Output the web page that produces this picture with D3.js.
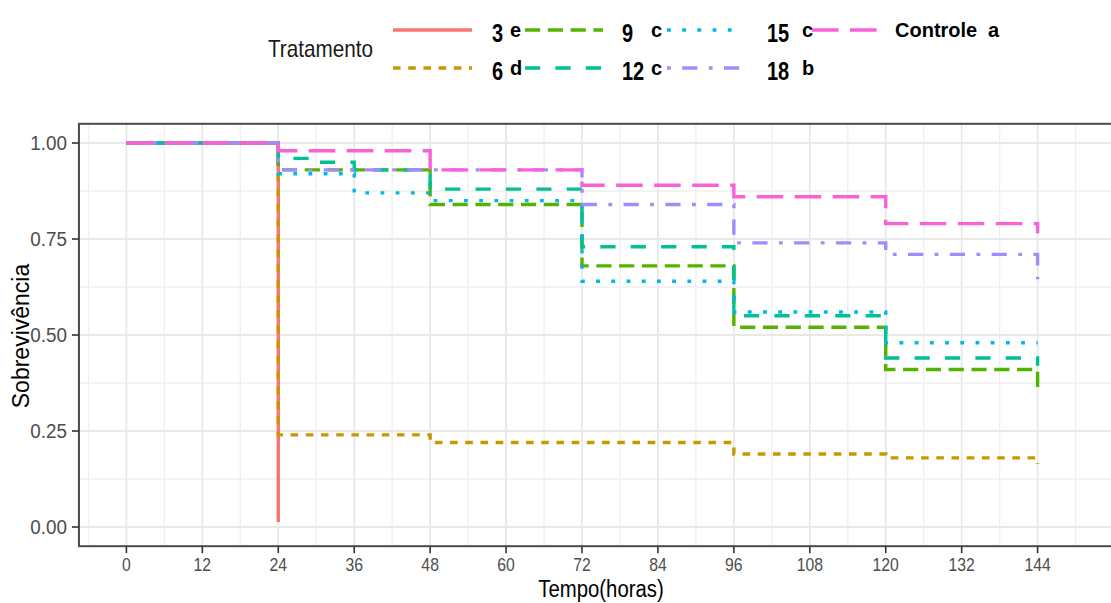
<!DOCTYPE html>
<html>
<head>
<meta charset="utf-8">
<script src="https://cdn.jsdelivr.net/npm/d3@7"></script>
<style>
  html, body { margin: 0; padding: 0; background: #ffffff; overflow: hidden; }
  svg { display: block; }
</style>
</head>
<body>
<svg id="chart" width="1111" height="603"></svg>
<script>
// ---------------- DATA ----------------
const treatments = ["3", "6", "9", "12", "15", "18", "Controle"];
const groupLetters = ["e", "d", "c", "c", "c", "b", "a"];
const seriesColors = ["#F8766D", "#C49A00", "#53B400", "#00C094", "#00B6EB", "#A58AFF", "#FB61D7"];
const lineTypes = ["solid", "22", "42", "44", "13", "1343", "73"];

const times_3 = [0, 24];
const surv_3  = [1.00, 0.013];
const times_6 = [0, 24, 48, 96, 120, 144];
const surv_6  = [1.00, 0.24, 0.22, 0.19, 0.18, 0.165];
const times_9 = [0, 24, 48, 72, 96, 120, 144];
const surv_9  = [1.00, 0.93, 0.84, 0.68, 0.52, 0.41, 0.355];
const times_12 = [0, 24, 30, 36, 48, 72, 96, 120, 144];
const surv_12  = [1.00, 0.96, 0.95, 0.93, 0.88, 0.73, 0.55, 0.44, 0.42];
const times_15 = [0, 24, 36, 48, 72, 96, 120, 144];
const surv_15  = [1.00, 0.92, 0.87, 0.85, 0.64, 0.56, 0.48, 0.48];
const times_18 = [0, 24, 72, 96, 120, 144];
const surv_18  = [1.00, 0.93, 0.84, 0.74, 0.71, 0.645];
const times_ctrl = [0, 24, 48, 72, 96, 120, 144];
const surv_ctrl  = [1.00, 0.98, 0.93, 0.89, 0.86, 0.79, 0.765];

const seriesTimes = [times_3, times_6, times_9, times_12, times_15, times_18, times_ctrl];
const seriesSurv  = [surv_3, surv_6, surv_9, surv_12, surv_15, surv_18, surv_ctrl];

const xTickValues = [0, 12, 24, 36, 48, 60, 72, 84, 96, 108, 120, 132, 144];
const yTickValues = [0.00, 0.25, 0.50, 0.75, 1.00];
const xTitle = "Tempo(horas)";
const yTitle = "Sobrevivência";
const legendTitle = "Tratamento";

// ---------------- LAYOUT ----------------
const svg = d3.select("#chart");
const x = d3.scaleLinear().domain([0, 144]).range([126.4, 1037.6]);
const y = d3.scaleLinear().domain([0, 1]).range([527, 143]);
const xMin = -7.5, xMax = 157.5, yMin = -0.05, yMax = 1.05;
const px0 = x(xMin), px1 = x(xMax), py0 = y(yMax), py1 = y(yMin);
const SX = 0.83; // horizontal text compression seen in the picture
const unit = 3.8;

function dash(lt) {
  if (lt === "solid") return null;
  return lt.split("").map(c => +c * unit).join(",");
}
function ctext(parent, tx, ty, str, size, anchor, fill, weight, sx) {
  const g = parent.append("g").attr("transform", `translate(${tx},${ty}) scale(${sx},1)`);
  return g.append("text").attr("x", 0).attr("y", 0)
    .attr("text-anchor", anchor).attr("fill", fill)
    .attr("font-family", "Liberation Sans, Arial, sans-serif")
    .attr("font-size", size).attr("font-weight", weight).text(str);
}

// panel background & grid
svg.append("rect").attr("x", px0).attr("y", py0).attr("width", px1 - px0).attr("height", py1 - py0).attr("fill", "#fff");
const grid = svg.append("g");
const xMinor = d3.range(-6, 157, 12);
const yMinor = [0.125, 0.375, 0.625, 0.875];
grid.selectAll(".vxm").data(xMinor).enter().append("line")
  .attr("x1", d => x(d)).attr("x2", d => x(d)).attr("y1", py0).attr("y2", py1)
  .attr("stroke", "#EFEFEF").attr("stroke-width", 1.3);
grid.selectAll(".hym").data(yMinor).enter().append("line")
  .attr("x1", px0).attr("x2", px1).attr("y1", d => y(d)).attr("y2", d => y(d))
  .attr("stroke", "#EFEFEF").attr("stroke-width", 1.3);
grid.selectAll(".vx").data(xTickValues).enter().append("line")
  .attr("x1", d => x(d)).attr("x2", d => x(d)).attr("y1", py0).attr("y2", py1)
  .attr("stroke", "#E8E8E8").attr("stroke-width", 1.8);
grid.selectAll(".hy").data(yTickValues).enter().append("line")
  .attr("x1", px0).attr("x2", px1).attr("y1", d => y(d)).attr("y2", d => y(d))
  .attr("stroke", "#E8E8E8").attr("stroke-width", 1.8);

// survival step curves
const line = d3.line().x(d => x(d[0])).y(d => y(d[1])).curve(d3.curveStepAfter);
treatments.forEach((t, i) => {
  const pts = seriesTimes[i].map((tt, j) => [tt, seriesSurv[i][j]]);
  svg.append("path").attr("d", line(pts))
    .attr("fill", "none").attr("stroke", seriesColors[i])
    .attr("stroke-width", 3.4)
    .attr("stroke-dasharray", dash(lineTypes[i]));
});

// panel border
svg.append("rect").attr("x", px0).attr("y", py0).attr("width", px1 - px0).attr("height", py1 - py0)
  .attr("fill", "none").attr("stroke", "#4a4a4a").attr("stroke-width", 2);

// axes ticks
const axG = svg.append("g");
axG.selectAll(".xt").data(xTickValues).enter().append("line")
  .attr("x1", d => x(d)).attr("x2", d => x(d)).attr("y1", py1).attr("y2", py1 + 7)
  .attr("stroke", "#333").attr("stroke-width", 1.6);
axG.selectAll(".yt").data(yTickValues).enter().append("line")
  .attr("x1", px0 - 7).attr("x2", px0).attr("y1", d => y(d)).attr("y2", d => y(d))
  .attr("stroke", "#333").attr("stroke-width", 1.6);
xTickValues.forEach(v => ctext(axG, x(v), 571, String(v), 19, "middle", "#4D4D4D", "normal", SX));
yTickValues.forEach(v => ctext(axG, px0 - 12, y(v) + 7, d3.format(".2f")(v), 20.5, "end", "#4D4D4D", "normal", 0.92));

// axis titles
ctext(svg, 601, 597, xTitle, 24.5, "middle", "#000", "normal", SX);
svg.append("text").attr("transform", `translate(29,336) rotate(-90)`)
  .attr("text-anchor", "middle").attr("font-family", "Liberation Sans, Arial, sans-serif")
  .attr("font-size", 23).attr("fill", "#000").text(yTitle);

// legend
const lg = svg.append("g");
ctext(lg, 268, 57, legendTitle, 23, "start", "#1a1a1a", "normal", 0.9);
const colKeyX = [393, 525, 667, 812];
const colKeyW = [79, 78, 73, 66];
const colNumX = [492, 622, 767, 895];
const colLetX = [510, 651, 802, 988];
const rowY = [30, 68];
treatments.forEach((t, i) => {
  const col = Math.floor(i / 2), row = i % 2;
  const ky = rowY[row];
  lg.append("line").attr("x1", colKeyX[col]).attr("x2", colKeyX[col] + colKeyW[col])
    .attr("y1", ky).attr("y2", ky)
    .attr("stroke", seriesColors[i]).attr("stroke-width", 3.4)
    .attr("stroke-dasharray", dash(lineTypes[i]));
  if (/^\d+$/.test(t)) {
    ctext(lg, colNumX[col], ky + 11.5, t, 25, "start", "#000", "bold", 0.8);
  } else {
    ctext(lg, colNumX[col], ky + 7, t, 20, "start", "#000", "bold", 1);
  }
  ctext(lg, colLetX[col], ky + 7, groupLetters[i], 20, "start", "#000", "bold", 1);
});
</script>
</body>
</html>
